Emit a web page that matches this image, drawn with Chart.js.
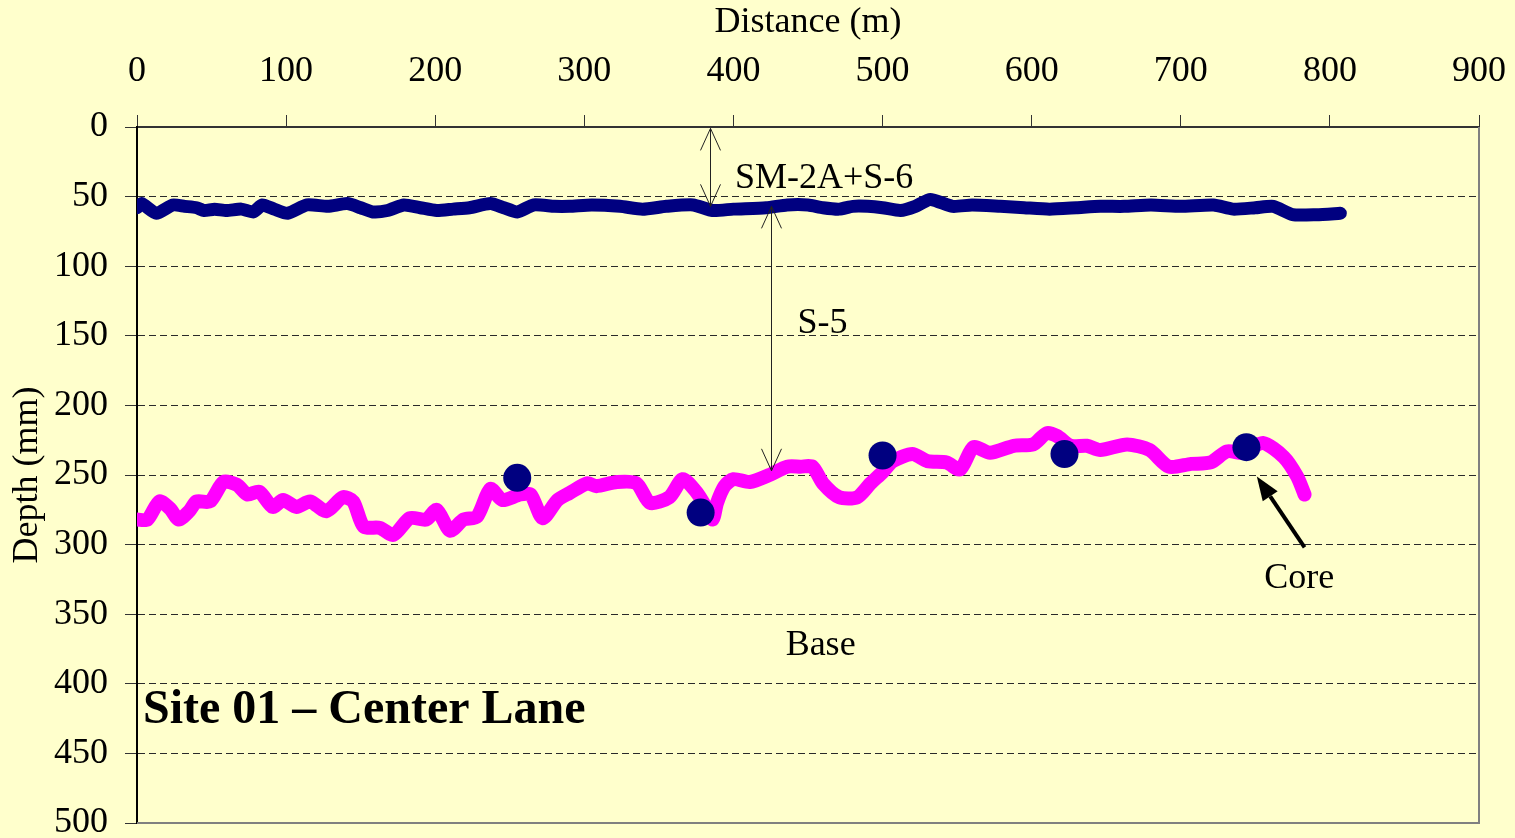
<!DOCTYPE html>
<html><head><meta charset="utf-8">
<script src="https://cdn.jsdelivr.net/npm/chart.js@4.4.1/dist/chart.umd.min.js"></script>
<style>html,body{margin:0;padding:0;background:#FFFFCC;overflow:hidden}#wrap{width:1515px;height:838px}</style>
</head><body><div id="wrap"><canvas id="c" width="1515" height="838"></canvas></div>
<script>
// ---- data ----
const xTickValues = [0,100,200,300,400,500,600,700,800,900];
const yTickValues = [0,50,100,150,200,250,300,350,400,450,500];

// SM-2A+S-6 / S-5 interface (surface layer bottom)
const surfDist  = [0,3,13,24,32,40,45,52,60,70,78,84,92,101,114,128,141,150,158,168,179,190,201,212,223,237,246,255,266,280,290,305,324,339,355,373,386,400,422,436,450,460,471,480,490,500,512,522,532,547,560,579,595,612,630,646,662,680,700,722,735,750,762,775,791,807];
const surfDepth = [58,55,62,56,57,58,60,59,60,59,61,56,59,62,56,57,55,58,61,60,56,58,60,59,58,55,58,61,56,57,57,56,57,59,57,56,60,59,58,56,56,58,59,57,57,58,60,57,52,57,56,57,58,59,58,57,57,56,57,56,59,58,57,63,63,62];

// S-5 / Base interface
const baseDist  = [0,7,15,22,28,35,40,49,58,67,74,82,91,98,107,116,127,138,145,152,163,172,183,194,201,210,219,228,237,245,257,264,272,282,290,302,308,322,335,344,357,366,375,381,386,389,394,400,411,424,436,445,453,460,471,483,492,500,507,520,530,543,552,561,572,588,601,610,617,626,637,646,664,679,692,707,720,731,742,755,769,778,783];
const baseDepth = [282,282,269,274,282,276,269,269,255,257,264,262,273,268,273,269,276,266,269,287,288,293,281,282,275,290,282,280,260,268,264,264,281,268,263,256,258,255,256,270,266,253,262,272,282,270,258,253,255,250,244,244,244,256,266,266,256,248,240,235,240,241,246,230,234,229,228,220,222,229,229,232,228,232,244,242,241,233,234,227,237,251,264];

// Cores
const coreDist  = [255,378,500,622,744];
const coreDepth = [252,277,236,235,230];

// ---- chart ----
const FONT = "'Liberation Serif','Times New Roman',serif";
Chart.defaults.font.family = FONT;
Chart.defaults.color = '#000';

const toXY = (xs, ys) => xs.map((v,i)=>({x:v, y:ys[i]}));
const zeroPad = s => { s.paddingLeft = 0; s.paddingRight = 0; s.paddingTop = 0; s.paddingBottom = 0; };

const bgPlugin = {
  id:'bg',
  beforeDraw(chart){
    const c = chart.ctx; c.save(); c.fillStyle='#FFFFCC';
    c.fillRect(0,0,chart.width,chart.height); c.restore();
  }
};

const framePlugin = {
  id:'frame',
  afterDraw(chart){
    const {ctx, chartArea:a} = chart;
    ctx.save();
    ctx.strokeStyle='#808080'; ctx.lineWidth=2;
    ctx.beginPath();
    ctx.moveTo(a.right, a.top); ctx.lineTo(a.right, a.bottom); ctx.lineTo(a.left, a.bottom);
    ctx.stroke();
    ctx.restore();
  }
};

function openHead(ctx, x, y, dir){ // dir: -1 up, +1 down (tip at x,y)
  ctx.beginPath();
  ctx.moveTo(x-10, y - dir*22); ctx.lineTo(x, y); ctx.lineTo(x+10, y - dir*22);
  ctx.stroke();
}

const annotPlugin = {
  id:'annot',
  afterDatasetsDraw(chart){
    const {ctx, scales:{x, y}} = chart;
    ctx.save();
    // dimension arrows
    ctx.strokeStyle='#222'; ctx.lineWidth=1;
    const dims = [{d:384, from:1, to:57},{d:425, from:57, to:247}];
    dims.forEach(a=>{
      const px = Math.round(x.getPixelForValue(a.d))+0.5;
      const y1 = y.getPixelForValue(a.from), y2 = y.getPixelForValue(a.to);
      ctx.beginPath(); ctx.moveTo(px,y1); ctx.lineTo(px,y2); ctx.stroke();
      openHead(ctx, px, y1, -1); openHead(ctx, px, y2, 1);
    });
    // labels
    ctx.fillStyle='#000'; ctx.textBaseline='alphabetic'; ctx.textAlign='left';
    ctx.font = "36px "+FONT;
    const labels = [
      {t:'SM-2A+S-6', d:401, v:44},
      {t:'S-5', d:443, v:148},
      {t:'Base', d:435, v:379},
      {t:'Core', d:756, v:331}
    ];
    labels.forEach(l=> ctx.fillText(l.t, x.getPixelForValue(l.d), y.getPixelForValue(l.v)));
    ctx.font = "bold 48px "+FONT;
    ctx.fillText('Site 01 \u2013 Center Lane', x.getPixelForValue(4), y.getPixelForValue(428.5));
    // core arrow
    const tx = x.getPixelForValue(751), ty = y.getPixelForValue(251);
    const sx = x.getPixelForValue(783), sy = y.getPixelForValue(302);
    const ang = Math.atan2(ty-sy, tx-sx);
    const hl = 24, hw = 9;
    const bx = tx - hl*Math.cos(ang), by = ty - hl*Math.sin(ang);
    ctx.strokeStyle='#000'; ctx.lineWidth=4; ctx.lineCap='butt';
    ctx.beginPath(); ctx.moveTo(sx,sy); ctx.lineTo(bx,by); ctx.stroke();
    ctx.beginPath();
    ctx.moveTo(tx,ty);
    ctx.lineTo(bx + hw*Math.sin(ang), by - hw*Math.cos(ang));
    ctx.lineTo(bx - hw*Math.sin(ang), by + hw*Math.cos(ang));
    ctx.closePath(); ctx.fill();
    ctx.restore();
  }
};

new Chart(document.getElementById('c'), {
  type:'scatter',
  data:{
    datasets:[
      {label:'Core', data:toXY(coreDist, coreDepth), showLine:false,
       pointRadius:14, pointHoverRadius:14, backgroundColor:'#000080', borderColor:'#000080', borderWidth:0, order:0},
      {label:'SM-2A+S-6 bottom', data:toXY(surfDist, surfDepth), showLine:true,
       borderColor:'#000080', borderWidth:13, pointRadius:0, tension:0.2,
       borderJoinStyle:'round', borderCapStyle:'round', order:2},
      {label:'S-5 bottom', data:toXY(baseDist, baseDepth), showLine:true,
       borderColor:'#FF00FF', borderWidth:14, pointRadius:0, tension:0.25,
       borderJoinStyle:'round', borderCapStyle:'round', order:1}
    ]
  },
  options:{
    responsive:false, animation:false, devicePixelRatio:1,
    layout:{padding:{left:0, right:36, top:0, bottom:15}},
    plugins:{legend:{display:false}, tooltip:{enabled:false}},
    scales:{
      x:{
        type:'linear', position:'top', min:0, max:900,
        afterBuildTicks:s=>{ s.ticks = xTickValues.map(v=>({value:v})); },
        afterFit:s=>{ s.height = 127; zeroPad(s); },
        ticks:{font:{size:36}, color:'#000', padding:22, maxRotation:0, autoSkip:false},
        grid:{drawOnChartArea:false, drawTicks:true, tickLength:12, tickColor:'#333', tickWidth:1},
        border:{display:true, color:'#333', width:2},
        title:{display:true, text:'Distance (m)', font:{size:36}, color:'#000', padding:{top:1,bottom:0}}
      },
      y:{
        type:'linear', reverse:true, min:0, max:500,
        afterBuildTicks:s=>{ s.ticks = yTickValues.map(v=>({value:v})); },
        afterFit:s=>{ s.width = 137; zeroPad(s); },
        ticks:{font:{size:36}, color:'#000', padding:17, autoSkip:false},
        grid:{color:'#2a2a2a', lineWidth:1, tickLength:12, tickBorderDash:[], tickColor:'#333', tickWidth:1},
        border:{display:true, color:'#000', width:2, dash:[7,4]},
        title:{display:true, text:'Depth (mm)', font:{size:36}, color:'#000', padding:{top:6,bottom:0}}
      }
    }
  },
  plugins:[bgPlugin, framePlugin, annotPlugin]
});
</script>
</body></html>
